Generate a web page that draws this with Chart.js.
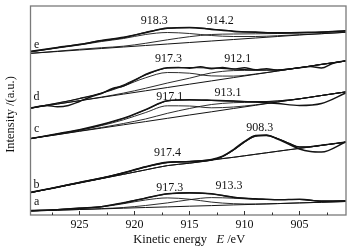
<!DOCTYPE html>
<html>
<head>
<meta charset="utf-8">
<script src="https://cdn.jsdelivr.net/npm/chart.js@4"></script>
<style>
  html, body { margin: 0; padding: 0; background: #fff; }
  #wrap { width: 352px; height: 248px; }
</style>
</head>
<body>
<div id="wrap"><canvas id="myChart" width="352" height="248"></canvas></div>
<script>
// energy grid (eV) used by most curves
const xGrid = [929.4, 927, 925, 923, 921, 919, 917, 915, 913, 911, 909, 907, 905, 903, 900.8];
// finer grid for spectrum b (sharp 908.3 peak)
const xB = [929.4, 927, 925, 923, 921, 919, 917, 915, 913, 912, 911, 910, 909, 908, 907, 906, 905, 904, 903, 900.8];
// raw data grid for spectrum d (noisy)
const xRawD = [929.4, 928, 927, 926, 925, 924, 923, 922, 921, 920, 919, 918, 917, 916, 915, 914, 913, 912, 911, 910, 909, 908, 907, 906, 905, 904, 903, 902, 900.8];

// spectrum e
const eBg  = [161.7, 163.5, 165, 166.5, 168, 169.5, 171, 172.5, 174, 175.5, 177, 178.5, 180, 181.3, 182.7];
const eP1  = [163.2, 167, 170, 173.5, 176.5, 180.5, 182.5, 181.5, 179.5, 178.5, 178.5, 179.3, 180.3, 181.3, 182.7];
const eP2  = [161.7, 163.8, 165.7, 167.3, 168.8, 171.7, 175.2, 178.3, 180.5, 181, 181.2, 181.5, 182, 182.7, 184];
const eFit = [163.3, 167.3, 170.7, 174.3, 177.3, 182.7, 186.7, 187.3, 186, 184, 182.7, 182.3, 182.3, 182.7, 184];
const eRaw = [163.8, 167.6, 170.4, 174.6, 177.8, 182.3, 186.9, 187.6, 185.6, 183.6, 182.9, 182.1, 182.6, 182.9, 184.3];

// spectrum d
const dBg  = [107, 111, 114.3, 117.6, 120.9, 124.2, 127.5, 130.8, 134.1, 137.4, 140.7, 144, 147.3, 150.6, 154];
const dP1  = [107, 111.8, 116.3, 121.6, 128.9, 137.2, 142.5, 141.8, 139.1, 138.9, 141, 144, 147.3, 150.6, 154];
const dP2  = [107, 111, 114.3, 117.9, 121.9, 126.7, 132, 136.8, 142.1, 144.4, 144.7, 145, 147.3, 150.6, 154];
const dFit = [107, 112, 116.5, 122, 130, 140, 147, 147.5, 147, 146, 145, 145, 147.3, 150.6, 154];
const dRaw = [107, 109.5, 108.3, 109.5, 113.5, 118, 121.5, 126.5, 129, 134.5, 140.5, 144.5, 147.3, 147.5, 146.8, 148.2, 146.3, 147.6, 146, 147.2, 145.2, 146.3, 144.8, 146, 147.2, 148.5, 147, 151.5, 154.3];

// spectrum c
const cBg  = [76.5, 80.4, 83.7, 86.9, 90.2, 93.4, 96.7, 100, 103.2, 106.5, 109.7, 113, 116.2, 119.5, 123.1];
const cP1  = [76.5, 80.9, 84.7, 89.4, 95.2, 102.4, 109.2, 109, 107.2, 108, 110.2, 113, 116.2, 119.5, 123.1];
const cP2  = [76.5, 80.4, 84, 87.5, 91.5, 96, 101.7, 106.5, 110.5, 112.3, 112.8, 114, 116.2, 119.5, 123.1];
const cFit = [76.5, 81, 85, 90, 96.5, 105, 114, 115, 114.5, 113.8, 113.3, 114, 116.2, 119.5, 123];
const cRaw = [76.5, 81.3, 85.4, 90.5, 96.8, 105.4, 114.3, 115.3, 114.8, 114, 113, 111.5, 109.5, 111.5, 122];

// spectrum b
const bBg  = [22.5, 27.7, 32, 36.4, 40.7, 45.1, 49.4, 51.8, 54.8, 56.3, 57.7, 59.2, 60.7, 62.2, 63.7, 65.2, 66.6, 68.1, 69.6, 72.8];
const bP1  = [22.5, 28, 32.5, 37, 42, 48, 52.5, 53.5, 55.3, 56.5, 57.7, 59.2, 60.7, 62.2, 63.7, 65.2, 66.6, 68.1, 69.6, 72.8];
const bP2  = [22.5, 27.7, 32, 36.4, 40.7, 45.1, 49.4, 51.8, 55, 58.3, 64.7, 72.7, 78.7, 79.5, 76.5, 72, 68, 68.1, 69.6, 72.8];
const bFit = [22.5, 28, 32.5, 37, 42, 48, 52.5, 53.5, 55, 58.5, 65, 73, 79, 79.5, 76.5, 72, 68, 68.3, 69.8, 73];
const bRaw = [22.8, 27.8, 32.6, 36.8, 42.3, 48.3, 52.8, 53.3, 55.4, 58.8, 65.5, 73.6, 79.5, 80, 76, 71, 66, 63.5, 63, 73];

// spectrum a
const aBg  = [4, 4.8, 5.5, 6.1, 6.8, 7.5, 8.1, 8.8, 9.4, 10.1, 10.7, 11.4, 12.1, 12.7, 13.5];
const aP1  = [4, 5.3, 6.5, 8.1, 11.3, 15, 17.1, 15.8, 12.9, 11.3, 11, 11.4, 12.1, 12.7, 13.5];
const aP2  = [4, 4.8, 5.5, 6.4, 7.5, 9.5, 12.1, 15.3, 17.4, 16.8, 15.7, 15.4, 15.5, 14, 14];
const aFit = [4.3, 5.5, 6.7, 8.5, 12, 17, 21, 22.3, 21, 18, 16, 15.5, 15.5, 14, 14];
const aRaw = [4.5, 5.3, 6.9, 8.3, 12.3, 16.8, 21.3, 22, 21.3, 17.6, 16.3, 15.2, 15.8, 13.7, 14.2];

// axis ticks
const tickValues = [925, 920, 915, 910, 905];
const minorTicks = [927.5, 922.5, 917.5, 912.5, 907.5, 902.5];

// peak labels: text, energy, intensity
const peakText = ["918.3", "914.2", "917.3", "912.1", "917.1", "913.1", "908.3", "917.4", "917.3", "913.3"];
const peakX    = [918.2, 912.2, 916.9, 910.6, 916.8, 911.5, 908.6, 917.0, 916.8, 911.4];
const peakY    = [194.5, 194, 156.5, 156, 118.5, 122, 87.5, 61.7, 27.3, 29.5];

// spectrum letters
const curveNames = ["a", "b", "c", "d", "e"];
const curveNameX = [928.9, 928.9, 928.9, 928.9, 928.9];
const curveNameY = [13.5, 30, 86.5, 118.5, 170.5];

const pts = (xs, ys) => xs.map((x, i) => ({ x: x, y: ys[i] }));

const line = (xs, ys, width) => ({
  data: pts(xs, ys),
  borderColor: "#141414",
  borderWidth: width,
  pointRadius: 0,
  cubicInterpolationMode: "monotone",
  fill: false,
});

const datasets = [
  line(xGrid, eBg, 1), line(xGrid, eP1, 0.9), line(xGrid, eP2, 0.9), line(xGrid, eFit, 1.2), line(xGrid, eRaw, 1.5),
  line(xGrid, dBg, 1), line(xGrid, dP1, 0.9), line(xGrid, dP2, 0.9), line(xGrid, dFit, 1.2), line(xRawD, dRaw, 1.4),
  line(xGrid, cBg, 1), line(xGrid, cP1, 0.9), line(xGrid, cP2, 0.9), line(xGrid, cFit, 1.2), line(xGrid, cRaw, 1.4),
  line(xB, bBg, 1), line(xB, bP1, 0.9), line(xB, bP2, 1), line(xB, bFit, 1.3), line(xB, bRaw, 1.5),
  line(xGrid, aBg, 1), line(xGrid, aP1, 0.9), line(xGrid, aP2, 0.9), line(xGrid, aFit, 1.2), line(xGrid, aRaw, 1.5),
];

const serif = "'Liberation Serif', 'Times New Roman', serif";

const decor = {
  id: "decor",
  afterDatasetsDraw(chart) {
    const ctx = chart.ctx;
    const area = chart.chartArea;
    const xs = chart.scales.x;
    const ys = chart.scales.y;
    ctx.save();

    // frame
    ctx.strokeStyle = "#7a7a7a";
    ctx.lineWidth = 1.3;
    ctx.strokeRect(area.left, area.top, area.right - area.left, area.bottom - area.top);

    // inward ticks
    ctx.strokeStyle = "#333";
    ctx.lineWidth = 1;
    tickValues.forEach((v) => {
      const px = Math.round(xs.getPixelForValue(v)) + 0.5;
      ctx.beginPath();
      ctx.moveTo(px, area.bottom);
      ctx.lineTo(px, area.bottom - 4);
      ctx.stroke();
    });
    minorTicks.forEach((v) => {
      const px = Math.round(xs.getPixelForValue(v)) + 0.5;
      ctx.beginPath();
      ctx.moveTo(px, area.bottom);
      ctx.lineTo(px, area.bottom - 2.5);
      ctx.stroke();
    });

    // peak labels and curve letters
    ctx.fillStyle = "#111";
    ctx.font = "12px " + serif;
    ctx.textAlign = "center";
    ctx.textBaseline = "middle";
    peakText.forEach((t, i) => {
      ctx.fillText(t, xs.getPixelForValue(peakX[i]), ys.getPixelForValue(peakY[i]));
    });
    curveNames.forEach((t, i) => {
      ctx.fillText(t, xs.getPixelForValue(curveNameX[i]), ys.getPixelForValue(curveNameY[i]));
    });

    // x title: "Kinetic energy  E /eV" with italic E
    const part1 = "Kinetic energy   ";
    const part2 = "E";
    const part3 = " /eV";
    ctx.font = "12.5px " + serif;
    const w1 = ctx.measureText(part1).width;
    const w3 = ctx.measureText(part3).width;
    ctx.font = "italic 12.5px " + serif;
    const w2 = ctx.measureText(part2).width;
    const total = w1 + w2 + w3;
    let sx = (area.left + area.right) / 2 + 1 - total / 2;
    ctx.textAlign = "left";
    ctx.textBaseline = "alphabetic";
    ctx.font = "12.5px " + serif;
    ctx.fillText(part1, sx, 243);
    sx += w1;
    ctx.font = "italic 12.5px " + serif;
    ctx.fillText(part2, sx, 243);
    sx += w2;
    ctx.font = "12.5px " + serif;
    ctx.fillText(part3, sx, 243);

    // y title
    ctx.translate(10.5, (area.top + area.bottom) / 2 + 4);
    ctx.rotate(-Math.PI / 2);
    ctx.textAlign = "center";
    ctx.textBaseline = "middle";
    ctx.fillText("Intensity /(a.u.)", 0, 0);
    ctx.restore();
  },
};

new Chart(document.getElementById("myChart").getContext("2d"), {
  type: "line",
  data: { datasets: datasets },
  options: {
    responsive: false,
    animation: false,
    layout: { padding: { top: 6, right: 6, left: 0, bottom: 0 } },
    plugins: { legend: { display: false }, tooltip: { enabled: false } },
    scales: {
      x: {
        type: "linear",
        reverse: true,
        min: 900.77,
        max: 929.45,
        afterBuildTicks: (s) => { s.ticks = tickValues.map((v) => ({ value: v })); },
        afterFit: (s) => { s.height = 33; },
        grid: { drawOnChartArea: false, drawTicks: false },
        border: { display: false },
        ticks: {
          padding: 3,
          color: "#111",
          font: { family: serif, size: 12 },
          maxRotation: 0,
        },
      },
      y: {
        min: 0,
        max: 209,
        afterFit: (s) => { s.width = 30.5; },
        grid: { drawOnChartArea: false, drawTicks: false },
        border: { display: false },
        ticks: { display: false },
      },
    },
  },
  plugins: [decor],
});
</script>
</body>
</html>
